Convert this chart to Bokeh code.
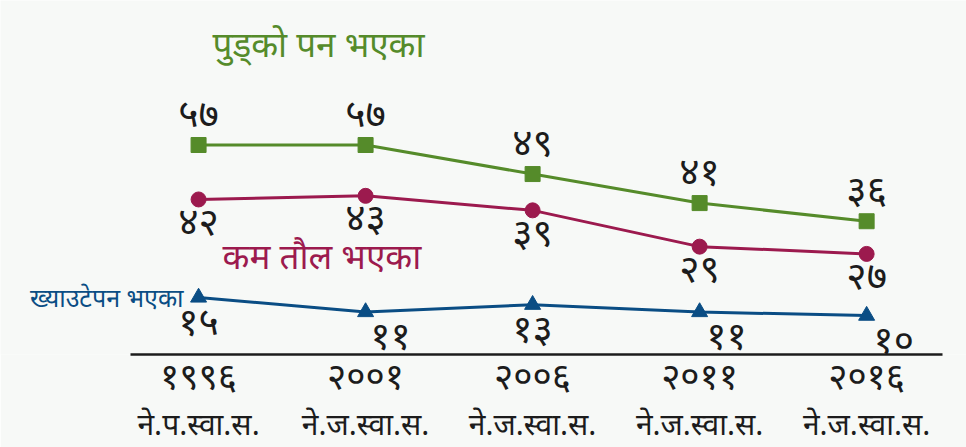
from bokeh.plotting import figure
from bokeh.models import Range1d, LinearAxis, FixedTicker, ColumnDataSource
from bokeh.core.properties import value
from bokeh.embed import file_html
from bokeh.resources import INLINE

# ---- data ----
years = [1996, 2001, 2006, 2011, 2016]
year_labels = ["१९९६", "२००१", "२००६", "२०११", "२०१६"]
survey_labels = ["ने.प.स्वा.स.", "ने.ज.स्वा.स.", "ने.ज.स्वा.स.", "ने.ज.स्वा.स.", "ने.ज.स्वा.स."]
stunted = [57, 57, 49, 41, 36]
underweight = [42, 43, 39, 29, 27]
wasted = [15, 11, 13, 11, 10]
series_names = ["पुड्को पन भएका", "कम तौल भएका", "ख्याउटेपन भएका"]

DEV = str.maketrans("0123456789", "०१२३४५६७८९")


def dev(n):
    return str(n).translate(DEV)


# ---- style ----
BG = "#f7f9f7"
GREEN = "#558b2a"
RED = "#9c1a4e"
BLUE = "#0a4d84"
INK = "#1c1c1c"
FONT = "Noto Sans"

X0, X1 = 1990.07, 2018.99
Y0, Y1 = -0.71, 96.81

p = figure(width=966, height=447, output_backend="svg", toolbar_location=None,
           x_range=Range1d(X0, X1), y_range=Range1d(Y0, Y1),
           min_border_left=0, min_border_right=0, min_border_top=0,
           min_border_bottom=93,
           background_fill_color=BG, border_fill_color=BG,
           outline_line_color=None, x_axis_type=None, y_axis_type=None)

ax_year = LinearAxis(ticker=FixedTicker(ticks=years),
                     major_label_overrides={y: l for y, l in zip(years, year_labels)},
                     bounds=(1993.96, 2018.27),
                     axis_line_color=INK, axis_line_width=2.5,
                     major_tick_line_color=None, minor_tick_line_color=None,
                     major_tick_out=0, major_tick_in=0, minor_tick_out=0, minor_tick_in=0,
                     major_label_text_font=FONT, major_label_text_font_size="37px",
                     major_label_text_color=INK, major_label_standoff=-6)
p.add_layout(ax_year, "below")

ax_src = LinearAxis(ticker=FixedTicker(ticks=years),
                    major_label_overrides={y: l for y, l in zip(years, survey_labels)},
                    axis_line_color=None,
                    major_tick_line_color=None, minor_tick_line_color=None,
                    major_tick_out=0, major_tick_in=0, minor_tick_out=0, minor_tick_in=0,
                    major_label_text_font=FONT, major_label_text_font_size="30px",
                    major_label_text_color=INK, major_label_standoff=0)
p.add_layout(ax_src, "below")

src = ColumnDataSource(dict(
    x=years, g=stunted, r=underweight, b=wasted,
    gl=[dev(v) for v in stunted], rl=[dev(v) for v in underweight],
    bl=[dev(v) for v in wasted],
    bdx=[0, 25, 0, 27, 27],
))

p.line("x", "g", source=src, line_color=GREEN, line_width=3)
p.scatter("x", "g", source=src, marker="square", size=15, color=GREEN)
p.line("x", "r", source=src, line_color=RED, line_width=3)
p.scatter("x", "r", source=src, marker="circle", size=15, color=RED)
p.line("x", "b", source=src, line_color=BLUE, line_width=3)
p.scatter("x", "b", source=src, marker="triangle", size=16, color=BLUE)

LBL = "39px"
p.text("x", "g", text="gl", source=src, text_align="center", text_baseline="alphabetic",
       y_offset=-34, text_font=value(FONT), text_font_size=LBL, text_color=INK)
p.text("x", "r", text="rl", source=src, text_align="center", text_baseline="alphabetic",
       y_offset=20, text_font=value(FONT), text_font_size=LBL, text_color=INK)
p.text("x", "b", text="bl", source=src, text_align="center", text_baseline="alphabetic",
       x_offset="bdx", y_offset=22, text_font=value(FONT), text_font_size=LBL,
       text_color=INK)

# series titles, anchored to the first point of each series
p.text(x=[years[0]], y=[stunted[0]], text=[series_names[0]], x_offset=14, y_offset=-102,
       text_align="left", text_baseline="alphabetic", text_font=value(FONT),
       text_font_size="35px", text_color=GREEN)
p.text(x=[years[0]], y=[underweight[0]], text=[series_names[1]], x_offset=24, y_offset=56,
       text_align="left", text_baseline="alphabetic", text_font=value(FONT),
       text_font_size="35px", text_color=RED)
p.text(x=[years[0]], y=[wasted[0]], text=[series_names[2]], x_offset=-15, y_offset=0,
       text_align="right", text_baseline="alphabetic", text_font=value(FONT),
       text_font_size="25px", text_color=BLUE)

open("out.html", "w").write(file_html(p, INLINE))
